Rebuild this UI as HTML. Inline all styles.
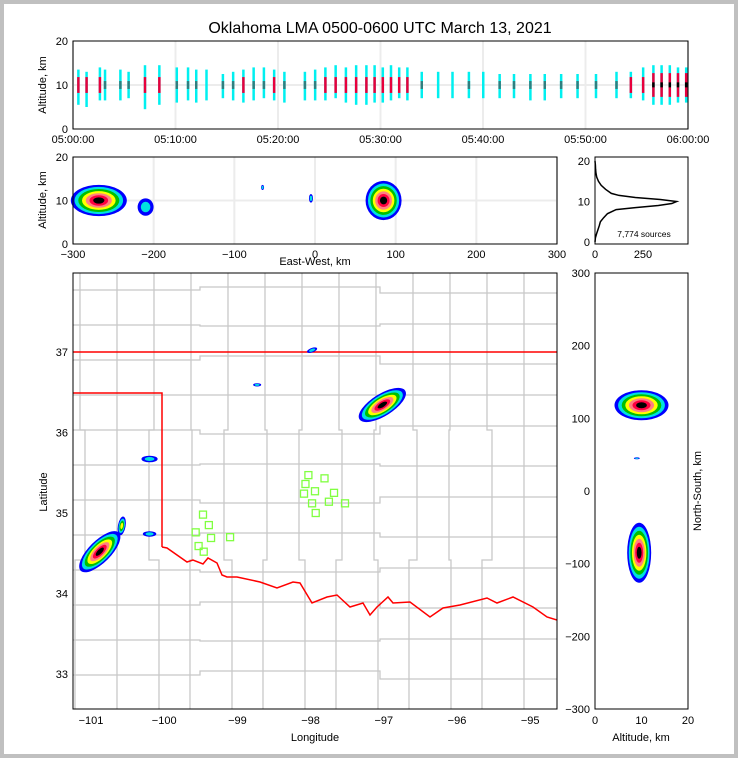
<!DOCTYPE html>
<html><head><meta charset="utf-8">
<style>
html,body{margin:0;padding:0;background:#c0c0c0;}
svg{display:block;font-family:"Liberation Sans",sans-serif;}
</style></head>
<body>
<svg id="chart" width="738" height="758" viewBox="0 0 738 758">
<rect x="4" y="4" width="730" height="750" fill="#fff"/>
<text x="380" y="33" font-size="16" text-anchor="middle">Oklahoma LMA 0500-0600 UTC March 13, 2021</text>
<g id="g"></g>
</svg>
<script>
// ---- data ----
const timeTickLabels=["05:00:00","05:10:00","05:20:00","05:30:00","05:40:00","05:50:00","06:00:00"];
const timeMinutes=[0.5,1.3,2.6,3.1,4.6,5.4,7.0,8.4,10.1,11.2,12.0,13.0,14.6,15.6,16.6,17.6,18.6,19.6,20.6,22.6,23.6,24.6,25.6,26.6,27.6,28.6,29.4,30.2,31.0,31.8,32.6,34.0,35.6,37.0,38.6,40.0,41.6,43.0,44.6,46.0,47.6,49.2,51.0,53.0,54.4,55.6,56.6,57.4,58.2,59.0,59.8];
const timeAltLow=[7,6.5,8,8,8,8.5,6,7,7.5,8,7.5,8,8.5,8,7.5,8,8.5,8,7.5,8,8,8,8.5,7.5,7,7,7.5,7.5,8,8.5,8,8.5,8.5,8.5,8.5,8.5,8.5,8.5,8,8,8.5,8.5,8.5,8.5,8.5,8,7,7,7,7.5,7.5];
const timeAltHigh=[12,11.5,12.5,12,12,11.5,13,13,12.5,12.5,12,12,11,11.5,12,12.5,12.5,12,11.5,11.5,12,12.5,13,12.5,13,13,13,12.5,13,12.5,12.5,11.5,11.5,11.5,11.5,11.5,11,11,11,11,11,11,11,11.5,11.5,12.5,13,13,13,12.5,12.5];
const timeIntensity=[2,2,2,1,1,1,2,2,1,1,1,0,1,1,2,1,1,2,1,1,1,2,2,2,2,2,2,2,2,2,2,1,0,0,1,0,1,1,1,1,1,1,1,1,2,2,3,3,3,3,3];
const ewTicks=[-300,-200,-100,0,100,200,300];
const ewCellX=[-268,85,-210,-5,-65];
const ewCellAlt=[10,10,8.5,10.5,13];
const ewCellRx=[28,18,8,2,1.5];
const ewCellRy=[3.6,4.5,2,1,0.6];
const ewCellCore=[3,3,0,0,0];
const histAlt=[0,1,2,3,4,5,6,7,8,8.5,9,9.5,10,10.5,11,11.5,12,13,14,15,16,17,18,19,20];
const histCount=[0,2,8,15,22,28,45,65,110,210,330,400,425,340,210,125,85,55,32,18,9,5,3,2,0];
const histTicks=[0,250];
const lonTicks=[-101,-100,-99,-98,-97,-96,-95];
const latTicks=[33,34,35,36,37];
const stationLon=[-98.03,-97.81,-98.07,-97.94,-98.09,-97.68,-97.98,-97.75,-97.53,-97.93,-99.47,-99.39,-99.57,-99.36,-99.10,-99.53,-99.46];
const stationLat=[35.47,35.43,35.36,35.27,35.24,35.25,35.12,35.14,35.12,35.0,34.98,34.85,34.76,34.69,34.70,34.59,34.52];
const cellLon=[-97.02,-100.88,-100.58,-100.2,-97.98,-100.2,-98.73];
const cellLat=[36.34,34.52,34.84,35.67,37.02,34.74,36.59];
const cellSize=[1.0,1.0,0.35,0.3,0.2,0.25,0.15];
const cellRot=[-32,-45,-80,0,-20,0,0];
const cellCore=[3,3,1,0,0,0,0];
const nsTicks=[-300,-200,-100,0,100,200,300];
const nsCellNs=[118,-85,45];
const nsCellAlt=[10,9.5,9];
const nsCellRx=[27,12,3];
const nsCellRy=[15,30,1];
const nsCellCore=[3,3,0];
const altTicks=[0,10,20];

// ---- helpers ----
const NS='http://www.w3.org/2000/svg';
const G=document.getElementById('g');
function el(t,a,p){const e=document.createElementNS(NS,t);for(const k in a)e.setAttribute(k,a[k]);(p||G).appendChild(e);return e;}
function txt(x,y,s,size,anchor,rot){const e=el('text',{x:x,y:y,'font-size':size,'text-anchor':anchor||'middle'});if(rot)e.setAttribute('transform','rotate('+rot+' '+x+' '+y+')');e.textContent=s;return e;}

// scales
const tX=m=>73+m/60*615, tY=a=>129-a*4.4;
const ewX=v=>73+(v+300)/600*484, ewY=a=>244-a*4.35;
const hX=c=>595+c*0.192, hY=a=>242-a*4.05;
const lonX=l=>91+(l+101)*73.2, latY=l=>513-(l-35)*80.6;
const nsX=a=>595+a*4.65, nsY=v=>491-v*0.7267;

// ---------- top time-height panel ----------
let panel=el('g',{});
timeTickLabels.forEach((s,i)=>{const x=tX(i*10);
 const l=el('line',{x1:x,y1:41,x2:x,y2:129,stroke:'#ececec','stroke-width':2},panel);
 const t=txt(x,143,s,11);});
el('line',{x1:73,y1:tY(10),x2:688,y2:tY(10),stroke:'#ececec','stroke-width':2},panel);
timeMinutes.forEach((m,i)=>{
 const x=tX(m);
 const r=el('rect',{x:x-1,y:tY(timeAltHigh[i]+1.5),width:2.5,height:tY(timeAltLow[i]-1.5)-tY(timeAltHigh[i]+1.5),fill:'#00f0f0'},panel);
 
 if(timeIntensity[i]>0){const lo=10-timeIntensity[i]*0.9, hi=10+timeIntensity[i]*0.9;
  const c=el('rect',{x:x-1,y:tY(hi),width:2.5,height:tY(lo)-tY(hi),fill:timeIntensity[i]>=2?'#e8003c':'#2f7f7f'},panel);
  
  if(timeIntensity[i]>=3){const k=el('rect',{x:x-1,y:tY(10.6),width:2.5,height:5,fill:'#000'},panel);}}
});
[0,10,20].forEach(a=>{const t=txt(68,tY(a)+4,String(a),11,'end');});
let f=el('rect',{x:73,y:41,width:615,height:88,fill:'none',stroke:'#000'},panel);
let yl=txt(46,85,'Altitude, km',11,'middle',-90);

// ---------- density blob helper ----------
const palette=['#0000ff','#00e0e0','#00c000','#ffff00','#ff8080','#ff0040','#000'];
function blob(cx,cy,rx,ry,rot,core,parent,name){
 const g=el('g',{transform:'translate('+cx+' '+cy+') rotate('+rot+')'},parent);
 
 const n=core>=3?7:(core>=1?4:2);
 for(let k=0;k<n;k++){const s=1-k/(n+0.5);el('ellipse',{cx:0,cy:0,rx:rx*s,ry:ry*s,fill:palette[k]},g);}
}

// ---------- east-west panel ----------
panel=el('g',{});
ewTicks.forEach(v=>{const x=ewX(v);el('line',{x1:x,y1:157,x2:x,y2:244,stroke:'#ececec','stroke-width':2},panel);
 const t=txt(x,258,String(v).replace('-','−'),11);});
el('line',{x1:73,y1:ewY(10),x2:557,y2:ewY(10),stroke:'#ececec','stroke-width':2},panel);
ewCellX.forEach((v,i)=>blob(ewX(v),ewY(ewCellAlt[i]),ewCellRx[i],ewCellRy[i]*4.35,0,ewCellCore[i],panel,'ew-source-cluster'));
[0,10,20].forEach(a=>{const t=txt(68,ewY(a)+4,String(a),11,'end');});
f=el('rect',{x:73,y:157,width:484,height:87,fill:'none',stroke:'#000'},panel);
yl=txt(46,200,'Altitude, km',11,'middle',-90);
let xl=txt(315,265,'East-West, km',11);

// ---------- histogram ----------
panel=el('g',{});
let pts=histAlt.map((a,i)=>hX(histCount[i])+','+hY(a)).join(' ');
let pl=el('polyline',{points:pts,fill:'none',stroke:'#000','stroke-width':1.5},panel);
histTicks.forEach(c=>{const t=txt(hX(c),258,String(c),11);});
[0,10,20].forEach(a=>{const t=txt(590,hY(a)+4,String(a),11,'end');});
f=el('rect',{x:595,y:157,width:93,height:87,fill:'none',stroke:'#000'},panel);
let st=txt(644,237,'7,774 sources',8.5);

// ---------- map ----------
panel=el('g',{});
const clip=el('clipPath',{id:'mc'},panel);el('rect',{x:73,y:273,width:484,height:436},clip);
const mg=el('g',{'clip-path':'url(#mc)'},panel);
for(let x=80;x<560;x+=37){const d=((x*7)%11)-5;const l=el('path',{d:'M'+x+' 273 V430 H'+(x+d)+' V560 H'+(x-d)+' V709',stroke:'#c8c8c8',fill:'none','stroke-width':1.3},mg);}
for(let y=290;y<709;y+=35){const d=((y*5)%9)-4;const l=el('path',{d:'M73 '+y+' H200 V'+(y+d)+' H380 V'+(y-d)+' H557',stroke:'#c8c8c8',fill:'none','stroke-width':1.3},mg);}
const border=el('path',{d:'M73 352 H557 M73 393 H162 V547',stroke:'#ff0000',fill:'none','stroke-width':1.5},mg);
const river=[[162,547],[167,548],[187,562],[193,560],[203,564],[208,558],[217,563],[222,575],[227,577],[237,577],[260,582],[277,588],[293,582],[300,583],[312,603],[327,597],[337,595],[350,607],[363,603],[370,615],[377,607],[388,597],[393,603],[410,602],[430,617],[443,608],[460,605],[487,598],[497,603],[513,597],[533,607],[547,617],[557,620]];
const rv=el('polyline',{points:river.map(p=>p.join(',')).join(' '),stroke:'#ff0000',fill:'none','stroke-width':1.5},mg);
stationLon.forEach((lo,i)=>{const s=el('rect',{x:lonX(lo)-3.5,y:latY(stationLat[i])-3.5,width:7,height:7,fill:'none',stroke:'#80ff40','stroke-width':1.3},mg);});
cellLon.forEach((lo,i)=>blob(lonX(lo),latY(cellLat[i]),cellSize[i]*27,cellSize[i]*11,cellRot[i],cellCore[i],mg,'storm-cell'));
lonTicks.forEach(v=>{const t=txt(lonX(v),724,String(v).replace('-','−'),11);});
latTicks.forEach(v=>{const t=txt(68,latY(v)+4,String(v),11,'end');});
f=el('rect',{x:73,y:273,width:484,height:436,fill:'none',stroke:'#000'},panel);
xl=txt(315,741,'Longitude',11);
yl=txt(47,492,'Latitude',11,'middle',-90);

// ---------- north-south panel ----------
panel=el('g',{});
nsCellNs.forEach((v,i)=>blob(nsX(nsCellAlt[i]),nsY(v),nsCellRx[i],nsCellRy[i],0,nsCellCore[i],panel,'ns-source-cluster'));
nsTicks.forEach(v=>{const t=txt(590,nsY(v)+4,String(v).replace('-','−'),11,'end');});
altTicks.forEach(a=>{const t=txt(nsX(a),724,String(a),11);});
f=el('rect',{x:595,y:273,width:93,height:436,fill:'none',stroke:'#000'},panel);
xl=txt(641,741,'Altitude, km',11);
yl=txt(701,491,'North-South, km',11,'middle',-90);
</script>
</body></html>
